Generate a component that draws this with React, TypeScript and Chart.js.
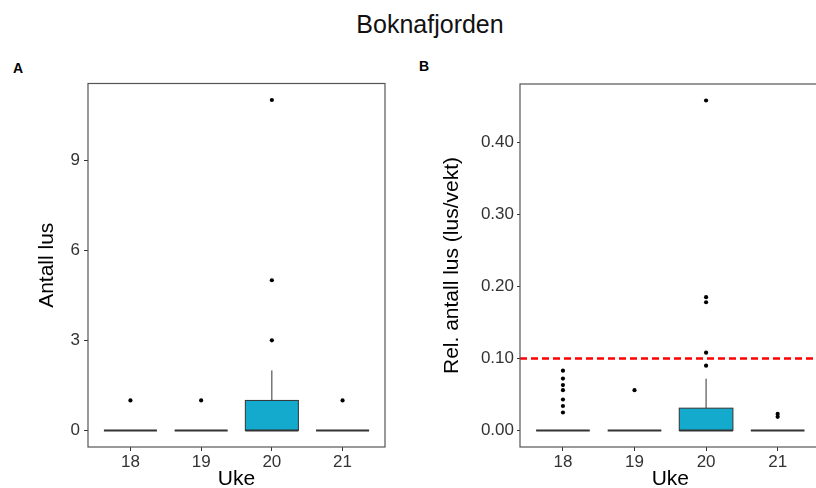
import React, { useEffect, useRef } from 'react';
import { Chart, registerables } from 'chart.js';

Chart.register(...registerables);

const FONT = "'Liberation Sans', Arial, sans-serif";
const BOX_FILL = '#14AACD';
const LINE_COLOR = '#333333';

// shared x axis (uke)
const WEEKS = [18, 19, 20, 21];
const X_MIN = 17.4;
const X_MAX = 21.6;
const BOX_WIDTH = 0.75;

// A: antall lus
const A_LOWER = [0, 0, 0, 0];
const A_Q1 = [0, 0, 0, 0];
const A_MEDIAN = [0, 0, 0, 0];
const A_Q3 = [0, 0, 1, 0];
const A_UPPER = [0, 0, 2, 0];
const A_OUTLIERS = [[1], [1], [3, 5, 11], [1]];
const A_TICKS = [0, 3, 6, 9];

// B: relativt antall lus (lus/vekt)
const B_LOWER = [0, 0, 0, 0];
const B_Q1 = [0, 0, 0, 0];
const B_MEDIAN = [0, 0, 0, 0];
const B_Q3 = [0, 0, 0.031, 0];
const B_UPPER = [0, 0, 0.072, 0];
const B_OUTLIERS = [
  [0.025, 0.034, 0.043, 0.056, 0.063, 0.072, 0.083],
  [0.056],
  [0.09, 0.108, 0.178, 0.185, 0.458],
  [0.019, 0.023],
];
const B_TICKS = [0, 0.1, 0.2, 0.3, 0.4];
const B_THRESHOLD = 0.1;

interface BoxStats {
  lower: number[];
  q1: number[];
  median: number[];
  q3: number[];
  upper: number[];
}

interface BoxPanelProps {
  box: BoxStats;
  outliers: number[][];
  yTicks: number[];
  yTitle: string;
  tickFormat: (v: number) => string;
  threshold?: number;
  left: number;
  width: number;
  yAxisWidth: number;
  titlePad: number;
  tickLen: number;
  tickPad: number;
  padTop: number;
  padRight: number;
}

const BoxPanel: React.FC<BoxPanelProps> = (p) => {
  const canvasRef = useRef<HTMLCanvasElement>(null);
  const chartRef = useRef<Chart | null>(null);

  useEffect(() => {
    if (!canvasRef.current) return;
    if (chartRef.current) chartRef.current.destroy();

    const allValues = [...p.box.upper, ...p.outliers.flat()];
    const maxVal = Math.max(...allValues);
    const expand = maxVal * 0.05;

    const boxPlugin = {
      id: 'boxes',
      beforeDatasetsDraw(chart: any) {
        const { ctx, scales } = chart;
        const x = scales.x;
        const y = scales.y;
        ctx.save();
        WEEKS.forEach((w, i) => {
          const cx = x.getPixelForValue(w);
          const half = x.getPixelForValue(w + BOX_WIDTH / 2) - cx;
          const top = y.getPixelForValue(p.box.q3[i]);
          const bot = y.getPixelForValue(p.box.q1[i]);
          ctx.strokeStyle = LINE_COLOR;
          ctx.lineWidth = 1;
          ctx.beginPath();
          ctx.moveTo(cx, y.getPixelForValue(p.box.upper[i]));
          ctx.lineTo(cx, top);
          ctx.moveTo(cx, bot);
          ctx.lineTo(cx, y.getPixelForValue(p.box.lower[i]));
          ctx.stroke();
          if (bot - top > 0.5) {
            ctx.fillStyle = BOX_FILL;
            ctx.fillRect(cx - half, top, half * 2, bot - top);
            ctx.strokeRect(cx - half, top, half * 2, bot - top);
          }
          const my = y.getPixelForValue(p.box.median[i]);
          ctx.lineWidth = 1.8;
          ctx.beginPath();
          ctx.moveTo(cx - half, my);
          ctx.lineTo(cx + half, my);
          ctx.stroke();
        });
        ctx.restore();
      },
      afterDraw(chart: any) {
        const { ctx, chartArea } = chart;
        ctx.save();
        ctx.strokeStyle = '#555555';
        ctx.lineWidth = 1.2;
        ctx.strokeRect(chartArea.left, chartArea.top, chartArea.right - chartArea.left, chartArea.bottom - chartArea.top);
        ctx.restore();
      },
    };

    const datasets: any[] = [];
    if (p.threshold !== undefined) {
      datasets.push({
        type: 'line',
        data: [
          { x: X_MIN, y: p.threshold },
          { x: X_MAX, y: p.threshold },
        ],
        borderColor: '#FF0000',
        borderWidth: 2.5,
        borderDash: [7, 4],
        pointRadius: 0,
      });
    }
    datasets.push({
      type: 'scatter',
      data: WEEKS.flatMap((w, i) => p.outliers[i].map((v) => ({ x: w, y: v }))),
      backgroundColor: '#000000',
      borderWidth: 0,
      pointRadius: 2.1,
    });

    chartRef.current = new Chart(canvasRef.current, {
      type: 'scatter',
      data: { datasets },
      plugins: [boxPlugin],
      options: {
        responsive: false,
        animation: false,
        events: [],
        layout: { padding: { top: p.padTop, right: p.padRight, left: 0, bottom: 0 } },
        plugins: { legend: { display: false }, tooltip: { enabled: false } },
        scales: {
          x: {
            type: 'linear',
            min: X_MIN,
            max: X_MAX,
            afterBuildTicks: (scale: any) => {
              scale.ticks = WEEKS.map((v) => ({ value: v }));
            },
            afterFit: (scale: any) => {
              scale.height = 41;
            },
            ticks: {
              color: LINE_COLOR,
              font: { family: FONT, size: 17 },
              padding: 1,
              callback: (v: any) => String(v),
            },
            grid: { display: true, drawOnChartArea: false, drawTicks: true, tickLength: 4, color: LINE_COLOR },
            border: { display: false },
            title: {
              display: true,
              text: 'Uke',
              color: '#000000',
              font: { family: FONT, size: 21, lineHeight: 1 },
              padding: { top: 0, bottom: -2 },
            },
          },
          y: {
            type: 'linear',
            min: -expand,
            max: maxVal + expand,
            afterBuildTicks: (scale: any) => {
              scale.ticks = p.yTicks.map((v) => ({ value: v }));
            },
            afterFit: (scale: any) => {
              scale.width = p.yAxisWidth;
            },
            ticks: {
              color: LINE_COLOR,
              font: { family: FONT, size: 17 },
              padding: p.tickPad,
              callback: (v: any) => p.tickFormat(Number(v)),
            },
            grid: { display: true, drawOnChartArea: false, drawTicks: true, tickLength: p.tickLen, color: LINE_COLOR },
            border: { display: false },
            title: {
              display: true,
              text: p.yTitle,
              color: '#000000',
              font: { family: FONT, size: 21 },
              padding: { top: p.titlePad, bottom: 0 },
            },
          },
        },
      } as any,
    });

    return () => {
      if (chartRef.current) {
        chartRef.current.destroy();
        chartRef.current = null;
      }
    };
  }, [p]);

  return (
    <canvas
      ref={canvasRef}
      width={p.width}
      height={428}
      style={{ position: 'absolute', left: p.left, top: 60, width: p.width, height: 428 }}
    ></canvas>
  );
};

const boxA: BoxStats = { lower: A_LOWER, q1: A_Q1, median: A_MEDIAN, q3: A_Q3, upper: A_UPPER };
const boxB: BoxStats = { lower: B_LOWER, q1: B_Q1, median: B_MEDIAN, q3: B_Q3, upper: B_UPPER };
const fmtA = (v: number) => String(v);
const fmtB = (v: number) => v.toFixed(2);

export default function App() {
  return (
    <div
      style={{
        position: 'fixed',
        left: 0,
        top: 0,
        width: 816,
        height: 488,
        overflow: 'hidden',
        background: '#ffffff',
        fontFamily: FONT,
      }}
    >
      <div
        style={{
          position: 'absolute',
          left: 430,
          top: 12,
          transform: 'translateX(-50%)',
          fontSize: 25,
          lineHeight: 1,
          whiteSpace: 'nowrap',
          color: '#111',
        }}
      >
        Boknafjorden
      </div>
      <div style={{ position: 'absolute', left: 13, top: 61, fontSize: 14, lineHeight: 1, fontWeight: 'bold' }}>A</div>
      <div style={{ position: 'absolute', left: 419, top: 59, fontSize: 14, lineHeight: 1, fontWeight: 'bold' }}>B</div>
      <BoxPanel
        box={boxA}
        outliers={A_OUTLIERS}
        yTicks={A_TICKS}
        yTitle="Antall lus"
        tickFormat={fmtA}
        left={0}
        width={400}
        yAxisWidth={88}
        titlePad={34.4}
        tickLen={4}
        tickPad={4}
        padTop={23.5}
        padRight={15}
      />
      <BoxPanel
        box={boxB}
        outliers={B_OUTLIERS}
        yTicks={B_TICKS}
        yTitle="Rel. antall lus (lus/vekt)"
        tickFormat={fmtB}
        threshold={B_THRESHOLD}
        left={410}
        width={420}
        yAxisWidth={110}
        titlePad={29.4}
        tickLen={3}
        tickPad={3}
        padTop={24}
        padRight={9.4}
      />
    </div>
  );
}
